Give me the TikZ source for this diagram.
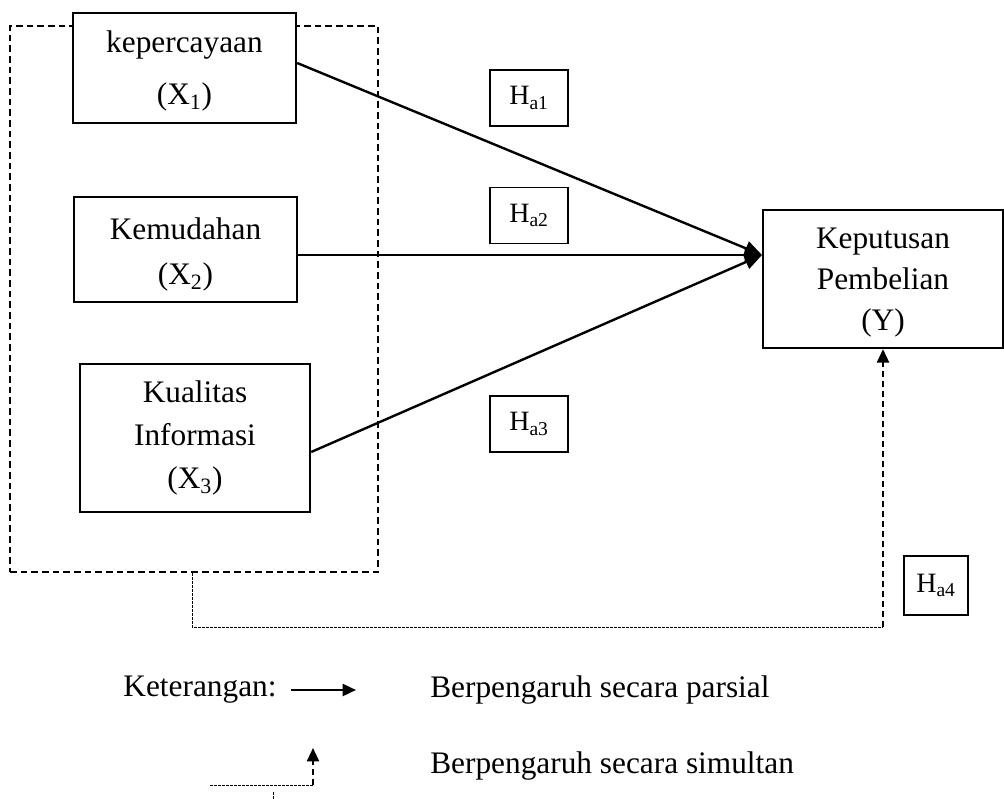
\documentclass[tikz,border=0pt]{standalone}
\usepackage{fontspec}
\setmainfont{Liberation Serif}
\usetikzlibrary{arrows.meta}

\begin{document}
\begin{tikzpicture}[x=0.75pt,y=-0.75pt,
  varbox/.style={draw, line width=1.8pt, fill=white, align=center, inner sep=0pt, font=\fontsize{23.5}{28}\selectfont},
  hbox/.style={draw, line width=1.4pt, fill=white, inner sep=0pt, minimum width=58pt, minimum height=42pt, font=\fontsize{21}{25}\selectfont},
  txt/.style={inner sep=0pt, font=\fontsize{23.5}{28}\selectfont},
  parsial/.style={line width=1.8pt, -{Triangle[length=13pt,width=11pt]}},
  simultan/.style={line width=1.6pt, dash pattern=on 4.5pt off 3pt, -{Triangle[length=10pt,width=9pt]}},
  thindash/.style={line width=0.7pt, dash pattern=on 2pt off 1pt}]
%\draw[step=50,gray,very thin] (0,0) grid (1004,799); %background grid
\useasboundingbox (0,0) rectangle (1004,799);

% dashed group of the X variables
\node[draw, line width=1.8pt, dash pattern=on 5pt off 3pt, minimum width=276pt, minimum height=409.5pt] (grp) at (194,299) {};

\node[varbox, minimum width=167.25pt, minimum height=82.5pt] (x1) at (184.5,68) {\rule{0pt}{21pt}kepercayaan\\[11.5pt](X\textsubscript{1})};
\node[varbox, minimum width=167.25pt, minimum height=78.75pt] (x2) at (185.5,249.5) {\rule{0pt}{23.5pt}Kemudahan\\[6pt](X\textsubscript{2})};
\node[varbox, minimum width=172.5pt, minimum height=111pt] (x3) at (195,438) {Kualitas\\[4.5pt]Informasi\\[4.5pt](X\textsubscript{3})};
\node[varbox, minimum width=180pt, minimum height=103.5pt] (y) at (883,279) {\rule{0pt}{21pt}Keputusan\\[2.5pt]Pembelian\\[2.5pt](Y)};

\node[hbox] (h1) at (529,98) {H\textsubscript{a1}};
\node[hbox] (h2) at (529,215.5) {H\textsubscript{a2}};
\node[hbox] (h3) at (529,424) {H\textsubscript{a3}};
\node[hbox, minimum width=48pt, minimum height=44pt] (h4) at (936,585.5) {H\textsubscript{a4}};

\coordinate (yin) at (762,255);
\draw[parsial] ([yshift=3.75pt]x1.east) -- (yin);
\draw[parsial] (x2.east |- yin) -- (yin);
\draw[parsial] ([yshift=-10.5pt]x3.east) -- (yin);

\coordinate (bend) at (y.south |- 0,627);
\draw[thindash] ([xshift=-1.5pt]grp.south) |- (bend);
\draw[simultan] (bend) -- (y.south);

% keterangan
\node[txt] (ket) at (200,690) {Keterangan:};
\coordinate (pa) at (291,690);
\coordinate (pb) at (356,690);
\draw[line width=1.8pt, -{Triangle[length=10pt,width=9pt]}] (pa) -- (pb);
\node[txt, anchor=west] (lp) at (430,690) {Berpengaruh secara parsial};

\coordinate (sa) at (210,785);
\coordinate (sb) at (313,785);
\coordinate (sc) at (313,748);
\draw[thindash] (sa) -- (sb);
\draw[simultan] (sb) -- (sc);
\draw[thindash] (273,792) -- (273,799);
\node[txt, anchor=west] (ls) at (430,766) {Berpengaruh secara simultan};

\end{tikzpicture}
\end{document}
